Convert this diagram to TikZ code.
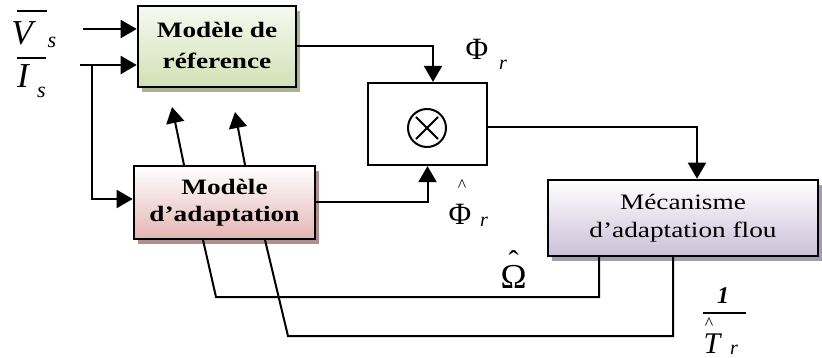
\documentclass[tikz,border=0pt]{standalone}
\usepackage{fontspec}
\usepackage{graphicx}
\setmainfont{Liberation Serif}
\usetikzlibrary{arrows.meta,shadows,calc}

\definecolor{refbot}{HTML}{D3E0B6}
\definecolor{reftop}{HTML}{F6F9F0}
\definecolor{refshadow}{HTML}{A7B393}
\definecolor{adbot}{HTML}{E4B5B4}
\definecolor{adshadow}{HTML}{B08E8E}
\definecolor{mecbot}{HTML}{CBC0D9}
\definecolor{mecshadow}{HTML}{A39DB0}

% block titles are set wide, as in the drawing
\newcommand{\wide}[1]{\scalebox{1.24}[1]{#1}}
\newcommand{\twolines}[2]{\wide{\begin{tabular}{@{}c@{}}#1\\#2\end{tabular}}}

\tikzset{
  blockbox/.style={draw, line width=2.6pt, inner sep=0pt, align=center},
  conn/.style={line width=2pt, line join=miter},
  arr/.style={conn, -{Triangle[length=16pt,width=18pt]}},
  lab/.style={inner sep=0pt, anchor=base},
}

\begin{document}
\begin{tikzpicture}[x=1pt,y=-1pt]
\useasboundingbox (0,0) rectangle (822,358);

% ---- blocks ----
\node[blockbox, minimum width=158pt, minimum height=81pt,
      top color=reftop, bottom color=refbot,
      drop shadow={shadow xshift=4pt, shadow yshift=-5pt, fill=refshadow, opacity=1}]
  (ref) at (217,46.5)
  {\fontsize{22}{31}\selectfont\bfseries\twolines{Modèle de}{réference}};

\node[blockbox, minimum width=181pt, minimum height=73pt,
      top color=white, bottom color=adbot,
      drop shadow={shadow xshift=4pt, shadow yshift=-5pt, fill=adshadow, opacity=1}]
  (adapt) at (224.5,202.5)
  {\fontsize{22}{27}\selectfont\bfseries\twolines{Modèle}{d’adaptation}};

\node[blockbox, minimum width=270pt, minimum height=76pt,
      top color=white, bottom color=mecbot,
      drop shadow={shadow xshift=4pt, shadow yshift=-5pt, fill=mecshadow, opacity=1}]
  (mec) at (683,218)
  {\fontsize{22}{28}\selectfont\twolines{Mécanisme}{d’adaptation flou}};

\node[draw, line width=2.2pt, minimum width=119pt, minimum height=82pt, inner sep=0pt]
  (mult) at (427.5,124) {};
\node[draw, circle, line width=2pt, minimum size=38pt, inner sep=0pt] (otimes) at (427,128) {};
\draw[line width=2pt] ($(otimes.center)!0.78!(otimes.north east)$) -- ($(otimes.center)!0.78!(otimes.south west)$);
\draw[line width=2pt] ($(otimes.center)!0.78!(otimes.north west)$) -- ($(otimes.center)!0.78!(otimes.south east)$);

% ---- inputs ----
\coordinate (vin) at (83,29);
\coordinate (iin) at (80,65);
\coordinate (ibr) at (92,65);
\draw[arr] (vin) -- (vin -| ref.west);
\draw[arr] (iin) -- (iin -| ref.west);
\draw[arr] (ibr) |- ([yshift=3.5pt]adapt.west);

% ---- flux paths ----
\draw[arr] (ref.east) -| ([xshift=5.5pt]mult.north);
\draw[arr] (adapt.east) -| (mult.south);
\draw[arr] ([yshift=-3pt]mult.east) -| ([xshift=14pt]mec.north);

% ---- adaptation to reference ----
\coordinate (u1a) at (184,165);
\coordinate (u1b) at (172,107);
\coordinate (u2a) at (245,165);
\coordinate (u2b) at (235,112);
\draw[arr] (u1a) -- (u1b);
\draw[arr] (u2a) -- (u2b);

% ---- feedback from the fuzzy mechanism ----
\coordinate (o1) at (599,257);
\coordinate (f1) at (216,297);
\coordinate (w1) at (203,240);
\coordinate (o2) at (673,257);
\coordinate (f2) at (288,336);
\coordinate (w2) at (265,240);
\draw[conn] (o1) |- (f1) -- (w1);
\draw[conn] (o2) |- (f2) -- (w2);

% ---- labels ----
% V_s
\node[lab, font=\fontsize{35}{35}\selectfont\itshape] (lV) at (22,45) {V};
\draw[line width=1.3pt] (17,11) -- (47,11);
\node[lab, font=\fontsize{22}{22}\selectfont\itshape] (lVs) at (52,48) {s};
% I_s
\node[lab, font=\fontsize{35}{35}\selectfont\itshape] (lI) at (23,88) {I};
\draw[line width=1.3pt] (17,58) -- (46,58);
\node[lab, font=\fontsize{22}{22}\selectfont\itshape] (lIs) at (41.5,98) {s};
% Phi_r
\node[lab, font=\fontsize{31}{31}\selectfont] (lPhi) at (477,60) {Φ};
\node[lab, font=\fontsize{20}{20}\selectfont\itshape] (lPhir) at (503,70) {r};
% hat Phi_r
\node[lab, font=\fontsize{31}{31}\selectfont] (lPhh) at (460,225) {Φ};
\node[inner sep=0pt, font=\fontsize{18}{18}\selectfont] (lPhhat) at (462,186) {\textasciicircum};
\node[lab, font=\fontsize{20}{20}\selectfont\itshape] (lPhhr) at (484,227) {r};
% hat Omega
\node[lab, font=\fontsize{35}{35}\selectfont] (lOm) at (513.5,288) {Ω};
\node[inner sep=0pt, font=\fontsize{30}{30}\selectfont] (lOmhat) at (513.5,261) {ˆ};
% 1 / hat T_r
\node[lab, font=\fontsize{24}{24}\selectfont\bfseries\itshape] (lone) at (723,303) {1};
\draw[line width=1.5pt] (703,313) -- (746,313);
\node[lab, font=\fontsize{30}{30}\selectfont\itshape] (lT) at (712,353) {T};
\node[inner sep=0pt, font=\fontsize{18}{18}\selectfont] (lThat) at (709,324) {\textasciicircum};
\node[lab, font=\fontsize{20}{20}\selectfont\itshape] (lTr) at (734,354) {r};
\end{tikzpicture}
\end{document}
